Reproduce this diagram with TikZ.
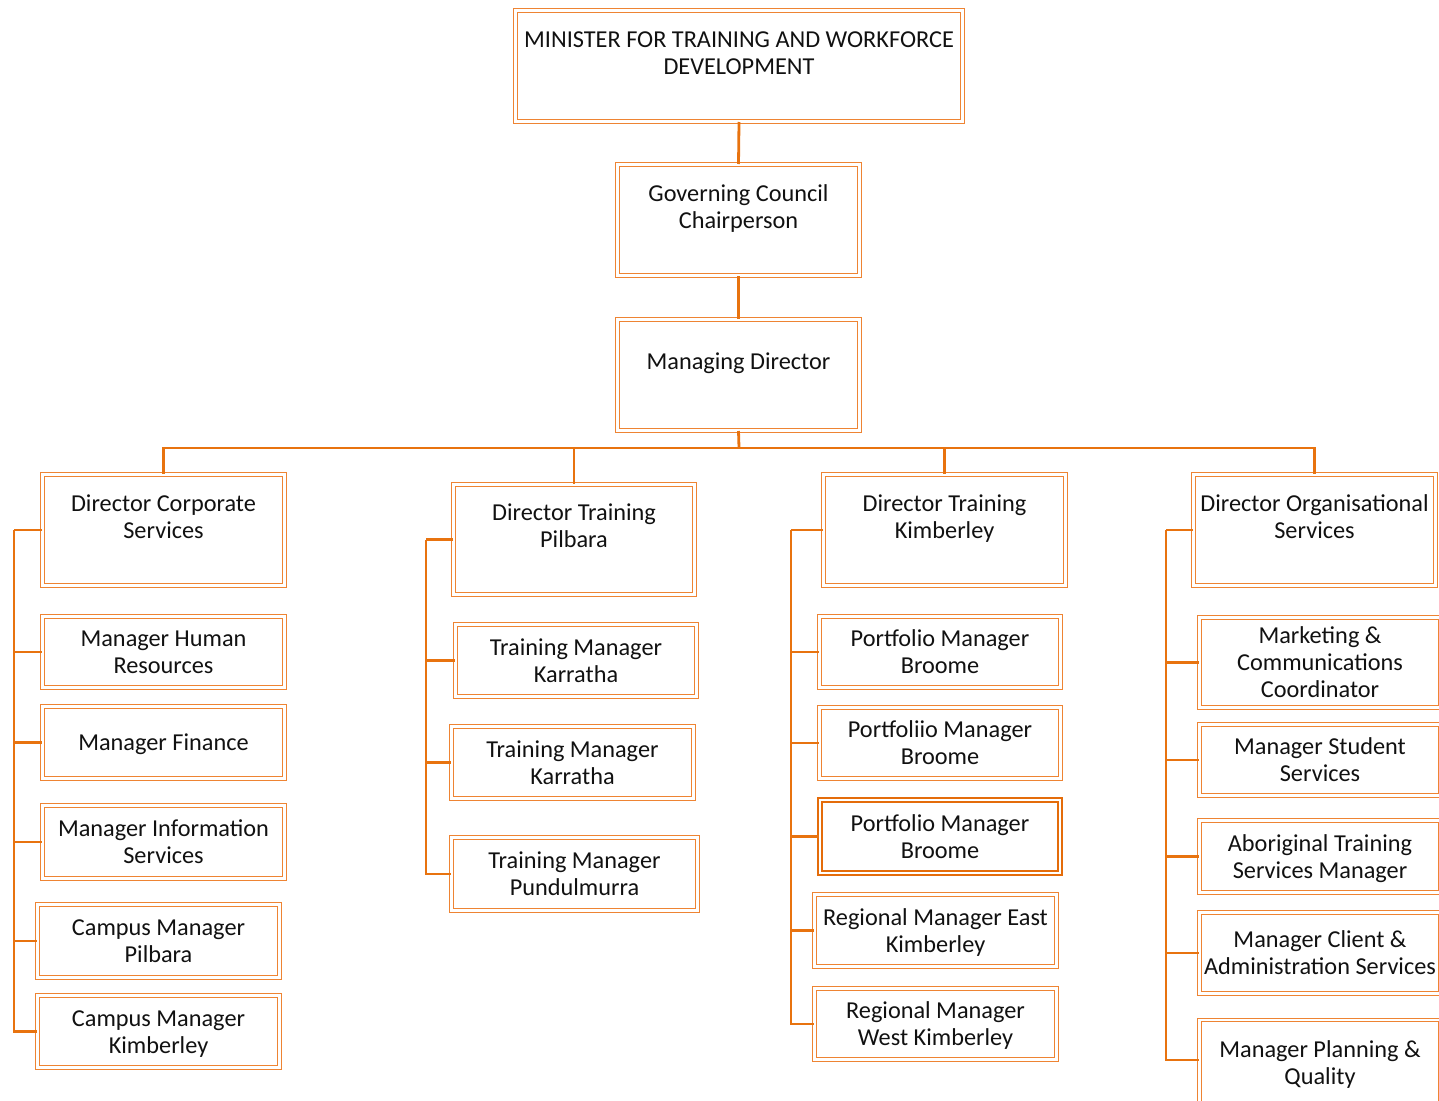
\documentclass[tikz,border=0pt]{standalone}
\usepackage{fontspec}
\setmainfont{Carlito}
\definecolor{boxor}{HTML}{EE8433}
\definecolor{lineor}{HTML}{E8730F}
\definecolor{darkor}{HTML}{E46C0A}
\definecolor{txt}{HTML}{111111}
\tikzset{
  obox/.style={draw=boxor, line width=1pt, double=white, double distance=2.6pt,
    align=center, inner sep=0pt, text=txt,
    font=\fontsize{24.3}{27}\selectfont},
  tbox/.style={obox, draw=darkor, line width=1.8pt, double distance=2.6pt},
  conn/.style={draw=lineor, line width=2.8pt}
}
\newcommand{\St}{\rule[-5.1pt]{0pt}{27pt}}
\begin{document}
\begin{tikzpicture}[x=1pt,y=-1pt]
\useasboundingbox (0,0) rectangle (1439,1100);
% top chain
\node[obox, minimum width=447, minimum height=111] (min) at (739,66) {MINISTER FOR TRAINING AND WORKFORCE\St\\DEVELOPMENT\St\\\St};
\node[obox, minimum width=242, minimum height=111] (gov) at (738.5,220) {Governing Council\St\\Chairperson\St\\\St};
\node[obox, minimum width=242, minimum height=111] (md) at (738.5,375) {Managing Director\St\\\St};
% directors
\node[obox, minimum width=242, minimum height=111] (dcs) at (163.5,530) {Director Corporate\St\\Services\St\\\St};
\node[obox, minimum width=241, minimum height=110] (dtp) at (574,539.5) {Director Training\St\\Pilbara\St\\\St};
\node[obox, minimum width=242, minimum height=111] (dtk) at (944.5,530) {Director Training\St\\Kimberley\St\\\St};
\node[obox, minimum width=242, minimum height=111] (dos) at (1314.5,530) {Director Organisational\St\\Services\St\\\St};
% column 1
\node[obox, minimum width=242, minimum height=71] (hr) at (163.5,652) {Manager Human\St\\Resources\St};
\node[obox, minimum width=242, minimum height=72] (fin) at (163.5,742.5) {Manager Finance\St};
\node[obox, minimum width=242, minimum height=73] (info) at (163.5,842) {Manager Information\St\\Services\St};
\node[obox, minimum width=242, minimum height=73] (cpil) at (158.5,941) {Campus Manager\St\\Pilbara\St};
\node[obox, minimum width=242, minimum height=72] (ckim) at (158.5,1031.5) {Campus Manager\St\\Kimberley\St};
% column 2
\node[obox, minimum width=241, minimum height=72] (tk1) at (576,660.5) {Training Manager\St\\Karratha\St};
\node[obox, minimum width=242, minimum height=72] (tk2) at (572.5,762.5) {Training Manager\St\\Karratha\St};
\node[obox, minimum width=246, minimum height=73] (tpu) at (574.5,874) {Training Manager\St\\Pundulmurra\St};
% column 3
\node[obox, minimum width=241, minimum height=71] (pb1) at (940,652) {Portfolio Manager\St\\Broome\St};
\node[obox, minimum width=241, minimum height=71] (pb2) at (940,743) {Portfoliio Manager\St\\Broome\St};
\node[tbox, minimum width=240, minimum height=73] (pb3) at (940,836.5) {Portfolio Manager\St\\Broome\St};
\node[obox, minimum width=242, minimum height=72] (rek) at (935.5,930.5) {Regional Manager East\St\\Kimberley\St};
\node[obox, minimum width=242, minimum height=71] (rwk) at (935.5,1024) {Regional Manager\St\\West Kimberley\St};
% column 4
\node[obox, minimum width=241, minimum height=90] (mkt) at (1320,662.5) {Marketing \&\St\\Communications\St\\Coordinator\St};
\node[obox, minimum width=241, minimum height=71] (mss) at (1320,760) {Manager Student\St\\Services\St};
\node[obox, minimum width=241, minimum height=72] (ats) at (1320,856.5) {Aboriginal Training\St\\Services Manager\St};
\node[obox, minimum width=241, minimum height=81] (mca) at (1320,953) {Manager Client \&\St\\Administration Services\St};
\node[obox, minimum width=241, minimum height=86] (mpq) at (1320,1063) {Manager Planning \&\St\\Quality\St};
% connectors
\coordinate (bus) at (739,448);
\draw[conn] (min.south) -- (gov.north);
\draw[conn] (gov.south) -- (md.north);
\draw[conn] (md.south) -- (bus);
\draw[conn] (bus) -| (dcs.north);
\draw[conn] (bus) -| (dtp.north);
\draw[conn] (bus) -| (dtk.north);
\draw[conn] (bus) -| (dos.north);
\coordinate (s1) at (14,530);
\coordinate (s2) at (426,539.5);
\coordinate (s3) at (791,530);
\coordinate (s4) at (1166,530);
\draw[conn] (dcs.west) -- (s1);
\foreach \n in {hr,fin,info,cpil,ckim} \draw[conn] (s1) |- (\n.west);
\draw[conn] (dtp.west) -- (s2);
\foreach \n in {tk1,tk2,tpu} \draw[conn] (s2) |- (\n.west);
\draw[conn] (dtk.west) -- (s3);
\foreach \n in {pb1,pb2,pb3,rek,rwk} \draw[conn] (s3) |- (\n.west);
\draw[conn] (dos.west) -- (s4);
\draw[conn] (s4) |- (mkt.west);
\draw[conn] (s4) |- (mss.west);
\draw[conn] (s4) |- (ats.west);
\draw[conn] (s4) |- (mca.west);
\draw[conn] (s4) |- ([yshift=3pt]mpq.west);
\end{tikzpicture}
\end{document}
